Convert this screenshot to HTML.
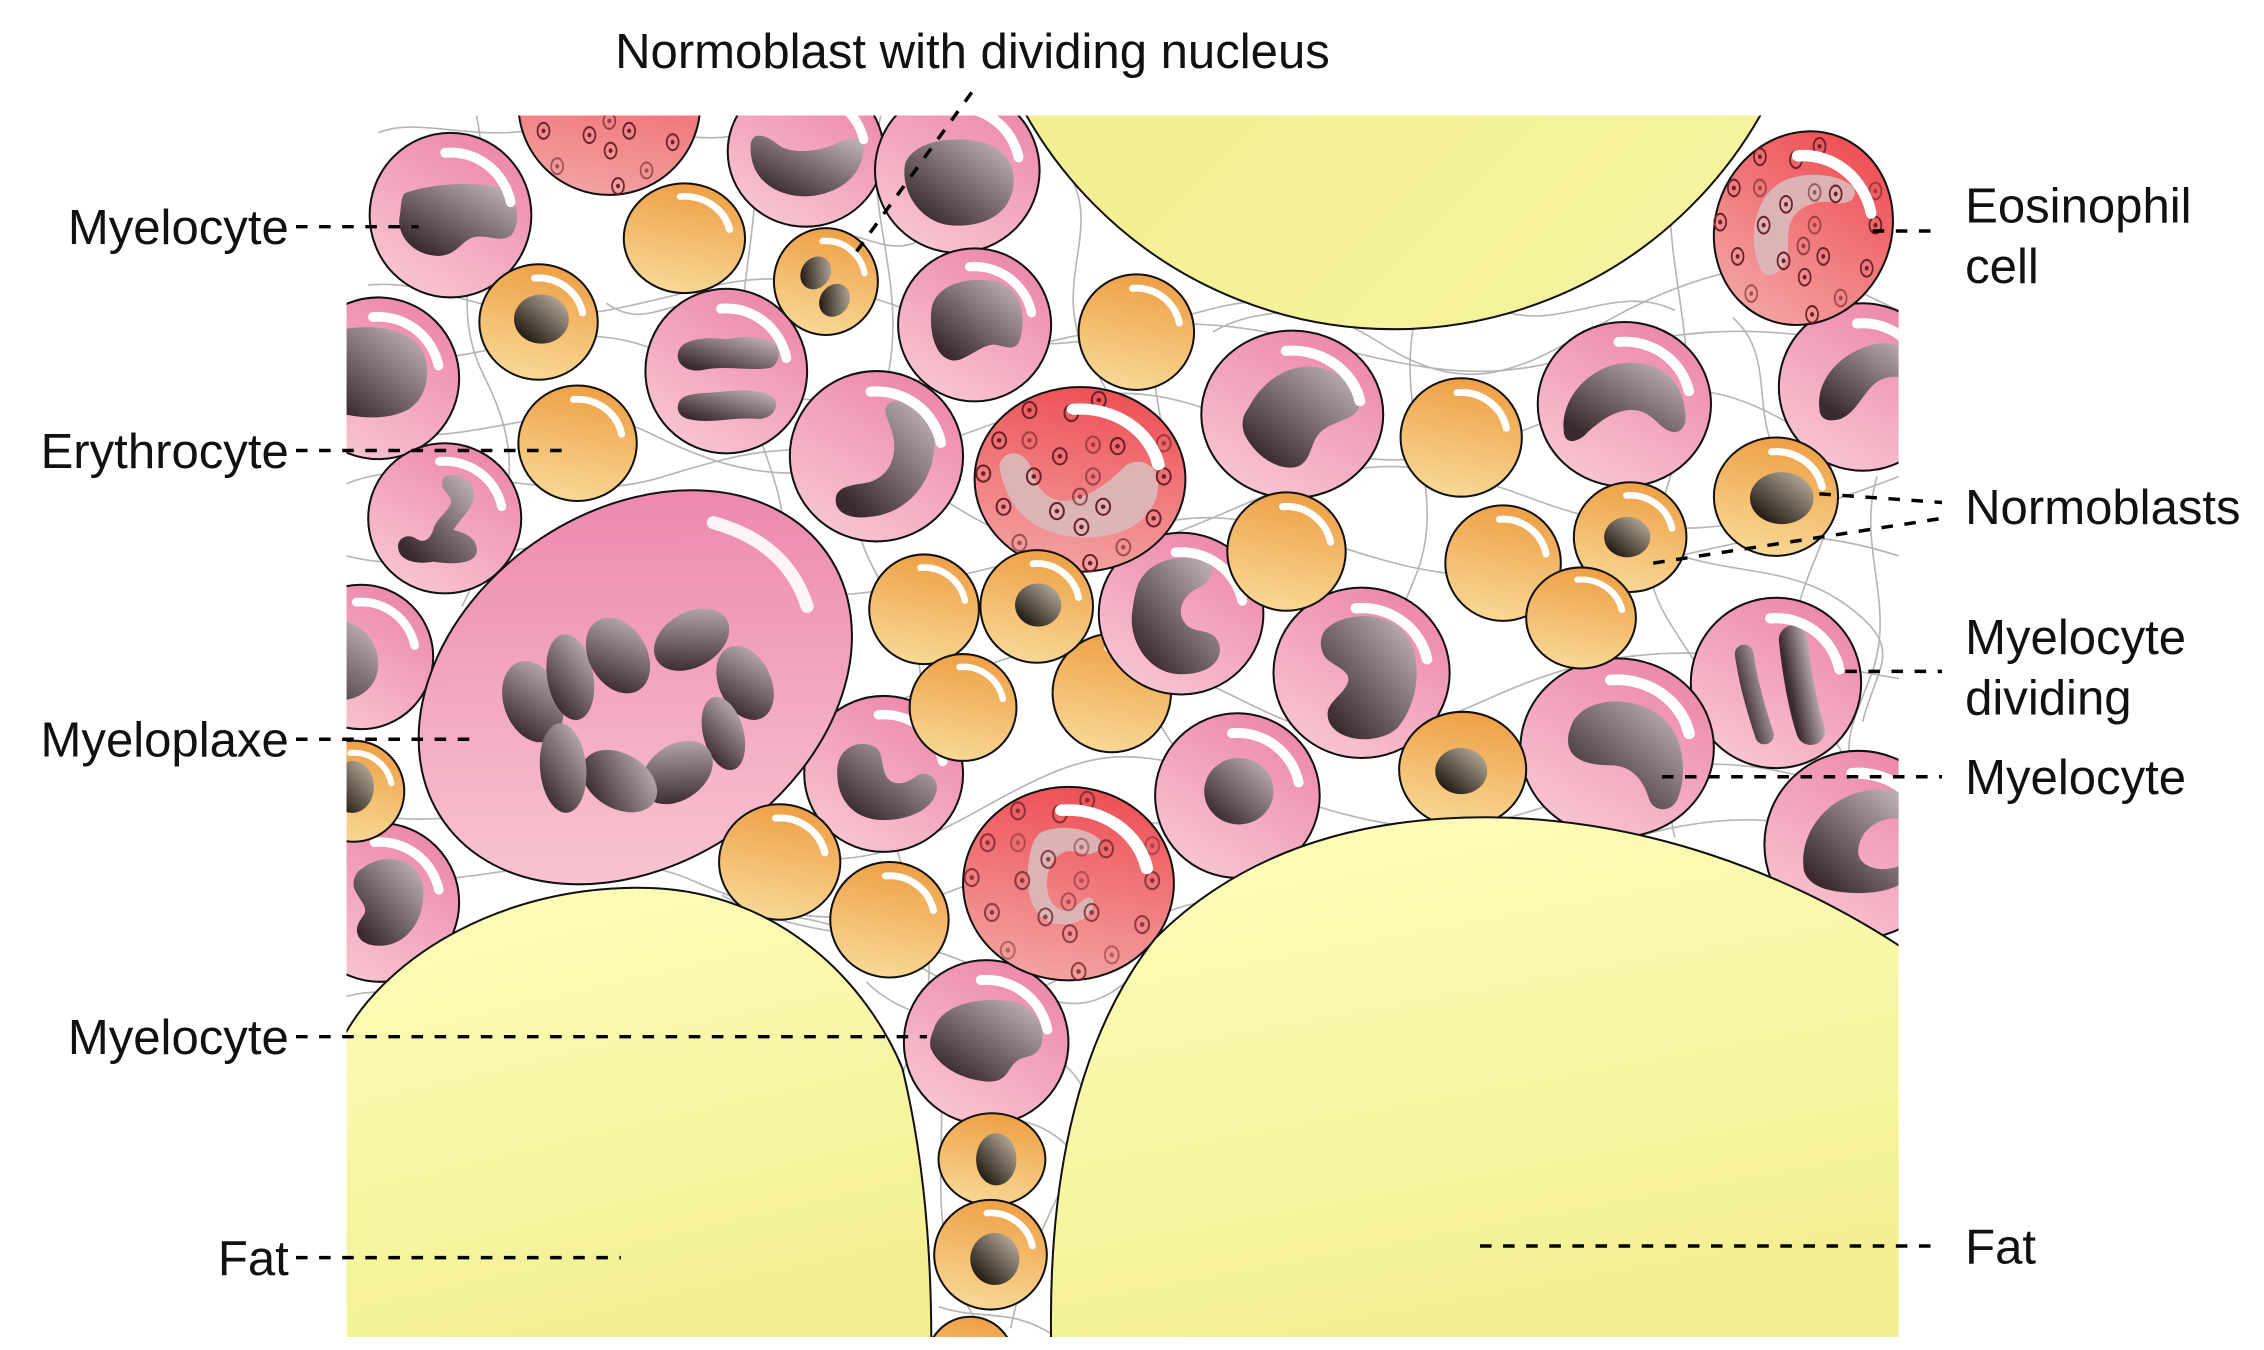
<!DOCTYPE html>
<html><head><meta charset="utf-8">
<style>
html,body{margin:0;padding:0;background:#fff;width:2264px;height:1350px;overflow:hidden}
svg{display:block}
.p{fill:url(#gP);stroke:#111;stroke-width:1.4}
.o{fill:url(#gO);stroke:#111;stroke-width:1.4}
.e{fill:url(#gE);stroke:#111;stroke-width:1.4}
.n{fill:url(#gN)}
.nn{fill:url(#gNN)}
.en{fill:#dbb8ba;opacity:.92}
.fb path{fill:none;stroke:#b6b6b6;stroke-width:1.15}
.d{stroke:#000;stroke-width:2.4;stroke-dasharray:8 8;fill:none}
</style></head>
<body>
<svg width="2264" height="1350" viewBox="0 0 1568 935" preserveAspectRatio="none" xmlns="http://www.w3.org/2000/svg">
<defs>
<linearGradient id="gP" x1="0.8" y1="0" x2="0.2" y2="1"><stop offset="0" stop-color="#ec84a9"/><stop offset="1" stop-color="#f9c8d3"/></linearGradient>
<linearGradient id="gPM" gradientUnits="userSpaceOnUse" x1="80" y1="-115" x2="-80" y2="115"><stop offset="0" stop-color="#ed88ae"/><stop offset="1" stop-color="#f8c5d1"/></linearGradient>
<linearGradient id="gO" x1="0.6" y1="0" x2="0.4" y2="1"><stop offset="0" stop-color="#ee9f45"/><stop offset="1" stop-color="#f8d996"/></linearGradient>
<linearGradient id="gE" x1="0.6" y1="0" x2="0.4" y2="1"><stop offset="0" stop-color="#ee4f55"/><stop offset="1" stop-color="#f3a3a3"/></linearGradient>
<linearGradient id="gN" x1="0.15" y1="0.9" x2="0.9" y2="0.1"><stop offset="0" stop-color="#3a2a2f"/><stop offset="1" stop-color="#b9abb0"/></linearGradient>
<linearGradient id="gNN" x1="0.15" y1="0.9" x2="0.9" y2="0.1"><stop offset="0" stop-color="#1f1810"/><stop offset="1" stop-color="#b5aa9a"/></linearGradient>
<linearGradient id="gFT" x1="0" y1="0" x2="1" y2="1"><stop offset="0" stop-color="#f0ec84"/><stop offset="1" stop-color="#f6f4a2"/></linearGradient>
<linearGradient id="gFB" x1="0.3" y1="0" x2="0.6" y2="1"><stop offset="0" stop-color="#fdfdb9"/><stop offset="1" stop-color="#f2ef90"/></linearGradient>
<path id="hl" d="M-3.3,-37.9 A38,38 0 0 1 37.2,-7.9" fill="none" stroke="#fff" stroke-width="6" stroke-linecap="round"/>
<g id="gr1"><ellipse rx="4.8" ry="5.6" fill="none" stroke="#6a2228" stroke-width="1.4"/><circle r="1.6" fill="#6a2228"/></g>
<g id="grs">
<use href="#gr1" x="-35" y="-48"/><use href="#gr1" x="-6" y="-46"/><use href="#gr1" x="13" y="-55"/>
<use href="#gr1" x="-56" y="-27"/><use href="#gr1" x="-35" y="-27" opacity=".6"/><use href="#gr1" x="-14" y="-16"/>
<use href="#gr1" x="9" y="-24" opacity=".6"/><use href="#gr1" x="26" y="-23"/><use href="#gr1" x="-67" y="-4"/>
<use href="#gr1" x="-32" y="-2"/><use href="#gr1" x="9" y="-2" opacity=".6"/><use href="#gr1" x="58" y="-2"/>
<use href="#gr1" x="-53" y="19"/><use href="#gr1" x="0" y="12" opacity=".7"/><use href="#gr1" x="16" y="19"/>
<use href="#gr1" x="-16" y="22"/><use href="#gr1" x="1" y="33"/><use href="#gr1" x="51" y="27"/>
<use href="#gr1" x="-42" y="44" opacity=".6"/><use href="#gr1" x="30" y="47" opacity=".6"/><use href="#gr1" x="7" y="58"/>
<use href="#gr1" x="58" y="-25" opacity=".6"/>
</g>
<clipPath id="tc"><path d="M255,80 H1315 V926 H240 V205 H255 Z"/></clipPath>
</defs>

<rect width="1568" height="935" fill="#fff"/>

<g clip-path="url(#tc)">
<!-- fibers -->
<g class="fb">
<path d="M262,92 C290,80 330,100 380,88 S470,105 520,92"/>
<path d="M240,200 C300,185 340,230 420,215 S520,180 600,205 S700,250 780,230 S880,190 960,240 S1080,230 1160,200 S1260,190 1315,215"/>
<path d="M245,245 C330,265 390,205 470,250 S600,275 680,250 S820,215 900,235 S1020,265 1080,250 S1200,215 1315,245"/>
<path d="M240,290 C310,325 380,265 450,300 S560,335 640,310 S760,255 840,285 S960,335 1050,300 S1180,255 1250,300 S1300,320 1315,305"/>
<path d="M240,335 C300,310 380,355 460,330 S580,300 660,350 S780,385 860,350 S980,315 1060,345 S1200,375 1315,330"/>
<path d="M240,385 C320,405 380,355 460,390 S600,415 700,390 S820,345 900,370 S1000,405 1100,395 S1220,355 1315,385"/>
<path d="M240,470 C300,495 380,455 460,480 S580,505 660,470 S780,445 860,485 S960,515 1040,480 S1180,445 1315,470"/>
<path d="M240,560 C320,585 380,535 470,570 S600,605 680,560 S780,515 870,545 S1000,585 1080,555 S1200,515 1315,560"/>
<path d="M240,605 C320,625 400,575 480,610 S600,645 700,600 S820,565 900,600 S1000,625 1100,590 S1250,565 1315,595"/>
<path d="M240,655 C300,640 360,695 430,660 S560,625 620,660 S700,705 760,660 S860,615 920,640"/>
<path d="M240,690 C280,680 300,700 330,690"/>
<path d="M500,620 C560,655 620,640 680,672 S760,705 800,660"/>
<path d="M600,680 C640,720 700,700 740,740 S720,820 700,920"/>
<path d="M640,700 C665,760 640,820 660,880 S700,920 690,926"/>
<path d="M655,760 C700,780 720,770 745,800"/>
<path d="M650,905 C680,915 700,905 730,925"/>
<path d="M330,80 C345,150 305,200 335,260 S355,350 320,420"/>
<path d="M520,80 C535,160 495,220 525,300 S545,380 505,450 S535,520 510,600"/>
<path d="M610,80 C595,150 635,200 610,280 S585,360 625,430 S595,520 625,600 S645,680 620,760"/>
<path d="M740,120 C765,160 725,200 755,250 S785,320 760,360"/>
<path d="M800,200 C785,260 825,320 800,380 S775,460 815,520"/>
<path d="M980,220 C965,290 1005,340 980,400 S955,470 995,520"/>
<path d="M1160,100 C1145,180 1185,240 1160,320 S1135,400 1175,460 S1145,530 1160,580"/>
<path d="M1200,220 C1235,250 1205,300 1245,330"/>
<path d="M1260,200 C1245,260 1285,320 1260,380 S1235,450 1275,520 S1295,580 1280,640"/>
<path d="M1300,330 C1285,380 1315,420 1295,470 S1275,520 1300,560"/>
<path d="M1150,380 C1200,400 1240,390 1280,420 S1300,460 1290,500"/>
<path d="M840,230 C880,205 940,225 980,200"/>
<path d="M1040,215 C1080,230 1120,195 1160,215"/>
<path d="M560,170 C590,148 610,183 640,165"/>
<path d="M420,210 C450,232 470,198 500,215"/>
</g>

<!-- orange behind -->
<g transform="translate(770,480)"><circle r="41" class="o"/><use href="#hl" transform="scale(.82)"/></g>

<!-- pink cells -->
<g transform="translate(312,149)"><ellipse rx="56" ry="57" class="p"/><path class="n" d="M-32,-15 C-15,-22 20,-24 38,-18 C48,-12 48,8 42,14 C34,20 24,12 14,16 C6,20 2,30 -12,28 C-28,26 -38,12 -35,0 C-34,-8 -34,-12 -32,-15 Z"/><use href="#hl" transform="scale(1.12,1.14)"/></g>
<g transform="translate(558,105)"><ellipse rx="54" ry="52" class="p"/><path class="n" d="M-38,-6 C-36,-14 -28,-12 -18,-4 C-8,2 10,0 22,-6 C34,-12 42,-10 40,0 C38,18 22,30 0,31 C-22,31 -40,18 -38,-6 Z"/><use href="#hl" transform="scale(1.08,1.04)"/></g>
<g transform="translate(663,118)"><ellipse rx="57" ry="57" class="p"/><path class="n" d="M-36,-5 C-30,-20 -5,-24 15,-20 C35,-16 42,0 38,15 C34,32 15,40 -5,38 C-25,36 -40,15 -36,-5 Z"/><use href="#hl" transform="scale(1.14)"/></g>
<g transform="translate(262,262)"><ellipse rx="56" ry="56" class="p"/><path class="n" d="M-40,-30 C-10,-40 20,-36 30,-20 C38,-5 33,15 20,22 C5,30 -20,28 -40,20 Z"/><use href="#hl" transform="scale(1.12)"/></g>
<g transform="translate(503,257)"><ellipse rx="56" ry="57" class="p"/><path class="n" d="M-33,-14 C-30,-22 -15,-24 0,-22 C12,-25 28,-24 35,-18 C38,-12 36,-4 30,-2 C15,0 0,-4 -15,-1 C-28,2 -36,-6 -33,-14 Z"/><path class="n" d="M-33,22 C-30,14 -15,16 0,14 C15,12 30,14 34,20 C36,28 30,34 20,33 C5,32 -10,36 -22,34 C-32,33 -35,28 -33,22 Z"/><use href="#hl" transform="scale(1.12,1.14)"/></g>
<g transform="translate(675,225)"><ellipse rx="53" ry="53" class="p"/><path class="n" d="M-30,-10 C-28,-28 -5,-34 15,-30 C30,-26 36,-10 32,8 C30,18 24,16 16,14 C8,12 0,20 -10,24 C-22,28 -32,14 -30,-10 Z"/><use href="#hl" transform="scale(1.06)"/></g>
<g transform="translate(607,316)"><ellipse rx="60" ry="59" class="p"/><path class="n" d="M12,-38 C30,-42 42,-25 40,-5 C38,20 20,40 -5,42 C-20,44 -30,38 -28,28 C-26,20 -15,20 -5,18 C8,14 14,2 12,-12 C10,-25 0,-34 12,-38 Z"/><use href="#hl" transform="scale(1.2,1.18)"/></g>
<g transform="translate(308,359)"><ellipse rx="53" ry="52" class="p"/><path class="n" d="M5,-30 C18,-30 24,-18 18,-8 C14,-2 10,2 6,8 C14,10 24,14 22,24 C20,32 4,32 -8,30 C-18,32 -30,30 -32,22 C-34,14 -26,10 -20,14 C-14,18 -10,14 -8,8 C-6,0 2,-4 4,-10 C6,-16 -2,-18 -2,-24 C-2,-28 0,-30 5,-30 Z"/><use href="#hl" transform="scale(1.06,1.04)"/></g>
<g transform="translate(895,287)"><ellipse rx="63" ry="58" class="p"/><path class="n" d="M-30,-5 C-20,-25 0,-35 15,-33 C35,-31 50,-15 46,-4 C42,4 30,4 21,11 C12,18 14,32 4,36 C-8,40 -25,30 -33,14 C-36,6 -34,0 -30,-5 Z"/><use href="#hl" transform="scale(1.26,1.16)"/></g>
<g transform="translate(1125,280)"><ellipse rx="60" ry="57" class="p"/><path class="n" d="M-42,18 C-44,0 -30,-22 -5,-28 C20,-32 40,-20 42,5 C44,16 38,22 30,18 C22,14 18,4 5,4 C-8,4 -20,14 -28,22 C-36,28 -42,26 -42,18 Z"/><use href="#hl" transform="scale(1.2,1.14)"/></g>
<g transform="translate(1290,268)"><ellipse rx="58" ry="58" class="p"/><path class="n" d="M-30,14 C-32,-5 -15,-25 10,-30 C25,-32 35,-25 40,-15 L40,0 C30,-8 18,-10 8,-2 C0,5 -5,18 -15,22 C-25,25 -30,22 -30,14 Z"/><use href="#hl" transform="scale(1.16)"/></g>
<g transform="translate(250,455)"><ellipse rx="50" ry="50" class="p"/><path class="n" d="M-15,-25 C0,-25 12,-10 12,5 C12,20 0,30 -15,30 L-60,30 L-60,-25 Z"/><use href="#hl" transform="scale(1)"/></g>
<g transform="translate(263,625)"><ellipse rx="55" ry="55" class="p"/><path class="n" d="M-10,-25 C5,-35 28,-30 30,-10 C32,10 20,30 0,30 C-15,30 -20,20 -12,10 C-5,2 -20,-5 -18,-15 C-16,-22 -14,-22 -10,-25 Z"/><use href="#hl" transform="scale(1.1)"/></g>
<g transform="translate(818,425)"><ellipse rx="57" ry="56" class="p"/><path class="n" d="M-30,-20 C-22,-38 0,-42 18,-36 C24,-32 22,-22 12,-18 C0,-12 -4,0 4,8 C10,14 22,10 26,20 C30,32 20,42 0,42 C-22,42 -36,20 -34,0 C-33,-8 -32,-14 -30,-20 Z"/><use href="#hl" transform="scale(1.14,1.12)"/></g>
<g transform="translate(943,466)"><ellipse rx="61" ry="59" class="p"/><path class="n" d="M-25,-30 C-10,-44 20,-42 32,-25 C42,-8 40,20 25,38 C12,50 -15,48 -22,35 C-28,22 -15,18 -10,8 C-5,-2 -22,-5 -26,-12 C-30,-20 -28,-26 -25,-30 Z"/><use href="#hl" transform="scale(1.22,1.18)"/></g>
<g transform="translate(1230,473)"><ellipse rx="59" ry="59" class="p"/><path d="M-22,-20 C-20,-5 -15,15 -8,36" fill="none" stroke="url(#gN)" stroke-width="13" stroke-linecap="round"/><path d="M12,-30 C14,-10 18,15 24,33" fill="none" stroke="url(#gN)" stroke-width="20" stroke-linecap="round"/><use href="#hl" transform="scale(1.18)"/></g>
<g transform="translate(1120,518)"><ellipse rx="67" ry="62" class="p"/><path class="n" d="M-32,-15 C-25,-35 10,-38 30,-22 C48,-8 48,20 42,35 C38,45 25,45 22,35 C18,22 10,12 -5,12 C-20,12 -34,8 -34,-5 C-34,-10 -33,-12 -32,-15 Z"/><use href="#hl" transform="scale(1.34,1.24)"/></g>
<g transform="translate(612,536)"><ellipse rx="55" ry="54" class="p"/><path class="n" d="M-32,-5 C-30,-20 -15,-24 -5,-18 C0,-14 -2,-5 2,2 C6,8 14,8 22,2 C30,-4 40,4 36,14 C32,26 15,32 0,32 C-20,32 -34,18 -32,-5 Z"/><use href="#hl" transform="scale(1.1,1.08)"/></g>
<g transform="translate(857,551)"><ellipse rx="57" ry="57" class="p"/><ellipse class="n" cx="1" cy="-3" rx="24" ry="23"/><use href="#hl" transform="scale(1.14)"/></g>
<g transform="translate(1287,585)"><ellipse rx="65" ry="65" class="p"/><path class="n" d="M-38,15 C-40,-10 -20,-35 10,-38 C25,-40 35,-35 35,-25 L30,-18 C15,-20 0,-10 0,5 C0,15 15,20 28,15 L28,28 C15,35 -10,35 -25,30 C-35,26 -38,20 -38,15 Z"/><use href="#hl" transform="scale(1.3)"/></g>
<g transform="translate(683,722)"><ellipse rx="57" ry="57" class="p"/><path class="n" d="M-36,-10 C-30,-28 0,-32 20,-28 C35,-24 42,-10 38,2 C34,12 26,8 20,14 C14,20 14,28 0,27 C-15,26 -32,18 -38,5 C-40,0 -38,-5 -36,-10 Z"/><use href="#hl" transform="scale(1.14)"/></g>

<!-- myeloplaxe -->
<g transform="translate(440,476)">
<ellipse rx="162" ry="122" transform="rotate(-35)" fill="url(#gPM)" stroke="#111" stroke-width="1.4"/>
<ellipse class="n" cx="-71" cy="10" rx="20" ry="29" transform="rotate(-20 -71 10)"/>
<ellipse class="n" cx="-45" cy="-7" rx="16" ry="30" transform="rotate(-10 -45 -7)"/>
<ellipse class="n" cx="-12" cy="-22" rx="20" ry="28" transform="rotate(-30 -12 -22)"/>
<ellipse class="n" cx="39" cy="-33" rx="28" ry="19" transform="rotate(-30 39 -33)"/>
<ellipse class="n" cx="76" cy="-3" rx="18" ry="27" transform="rotate(-25 76 -3)"/>
<ellipse class="n" cx="61" cy="32" rx="14" ry="26" transform="rotate(-15 61 32)"/>
<ellipse class="n" cx="29" cy="59" rx="27" ry="19" transform="rotate(-35 29 59)"/>
<ellipse class="n" cx="-11" cy="65" rx="28" ry="19" transform="rotate(30 -11 65)"/>
<ellipse class="n" cx="-50" cy="56" rx="16" ry="31" transform="rotate(-5 -50 56)"/>
<path d="M54,-114 Q105,-100 119,-56" fill="none" stroke="#fff" stroke-opacity=".9" stroke-width="9" stroke-linecap="round"/>
</g>

<!-- eosinophils -->
<g transform="translate(422,72)"><circle r="63" class="e"/><use href="#grs" transform="scale(.86,.98)"/></g>
<g transform="translate(748,332)"><ellipse rx="73" ry="64" class="e"/><path class="en" d="M-56,-10 C-52,-22 -38,-20 -34,-8 C-30,8 -20,18 -5,14 C10,10 20,2 30,-8 C38,-16 52,-12 54,0 C56,20 40,38 10,40 C-20,42 -50,30 -56,-10 Z"/><use href="#grs"/><use href="#hl" transform="scale(1.46,1.28)"/></g>
<g transform="translate(1249,158)"><ellipse rx="61" ry="68" class="e" transform="rotate(22)"/><path class="en" d="M-30,28 C-38,10 -36,-20 -15,-32 C0,-40 25,-38 35,-28 C38,-20 30,-15 20,-18 C5,-20 -8,-12 -10,0 C-12,12 -8,20 -15,28 C-20,34 -28,34 -30,28 Z"/><use href="#grs" transform="scale(.86,1.03)"/><use href="#hl" transform="scale(1.26,1.32)"/></g>
<g transform="translate(740,612)"><ellipse rx="73" ry="67" class="e"/><path class="en" d="M-20,-35 C-5,-42 15,-38 22,-30 C25,-22 15,-18 5,-22 C-5,-25 -15,-15 -15,0 C-15,12 -8,20 0,18 C8,16 10,8 16,10 C20,14 15,26 0,28 C-20,30 -30,15 -28,-10 C-27,-22 -25,-30 -20,-35 Z"/><use href="#grs" transform="scale(1,1.05)" opacity=".75"/><use href="#hl" transform="scale(1.46,1.34)"/></g>

<!-- orange cells -->
<g transform="translate(474,165)"><ellipse rx="42" ry="38" class="o"/><use href="#hl" transform="scale(.84,.76)"/></g>
<g transform="translate(572,195)"><ellipse rx="36" ry="37" class="o"/><ellipse class="nn" cx="-7" cy="-6" rx="10" ry="12" transform="rotate(35 -7 -6)"/><ellipse class="nn" cx="6" cy="13" rx="10" ry="12" transform="rotate(35 6 13)"/><use href="#hl" transform="scale(.72,.74)"/></g>
<g transform="translate(373,223)"><ellipse rx="41" ry="40" class="o"/><ellipse class="nn" cx="2" cy="-2" rx="19" ry="17"/><use href="#hl" transform="scale(.82,.8)"/></g>
<g transform="translate(400,307)"><ellipse rx="41" ry="40" class="o"/><use href="#hl" transform="scale(.82,.8)"/></g>
<g transform="translate(787,230)"><circle r="40" class="o"/><use href="#hl" transform="scale(.8)"/></g>
<g transform="translate(1012,303)"><ellipse rx="42" ry="41" class="o"/><use href="#hl" transform="scale(.84,.82)"/></g>
<g transform="translate(1230,344)"><ellipse rx="43" ry="41" class="o"/><ellipse class="nn" cx="4" cy="1" rx="22" ry="18"/><use href="#hl" transform="scale(.86,.82)"/></g>
<g transform="translate(1129,372)"><ellipse rx="39" ry="38" class="o"/><ellipse class="nn" cx="-2" cy="0" rx="16" ry="14"/><use href="#hl" transform="scale(.78,.76)"/></g>
<g transform="translate(1041,390)"><circle r="40" class="o"/><use href="#hl" transform="scale(.8)"/></g>
<g transform="translate(1095,428)"><ellipse rx="38" ry="35" class="o"/><use href="#hl" transform="scale(.76,.7)"/></g>
<g transform="translate(891,382)"><circle r="41" class="o"/><use href="#hl" transform="scale(.82)"/></g>
<g transform="translate(640,422)"><circle r="38" class="o"/><use href="#hl" transform="scale(.76)"/></g>
<g transform="translate(718,420)"><circle r="39" class="o"/><ellipse class="nn" cx="1" cy="-1" rx="16" ry="15"/><use href="#hl" transform="scale(.78)"/></g>
<g transform="translate(667,490)"><circle r="37" class="o"/><use href="#hl" transform="scale(.74)"/></g>
<g transform="translate(1013,533)"><ellipse rx="44" ry="40" class="o"/><ellipse class="nn" cx="-1" cy="1" rx="18" ry="16"/></g>
<g transform="translate(245,548)"><circle r="35" class="o"/><ellipse class="nn" cx="-1" cy="-3" rx="15" ry="18"/><use href="#hl" transform="scale(.7)"/></g>
<g transform="translate(540,597)"><ellipse rx="42" ry="40" class="o"/><use href="#hl" transform="scale(.84,.8)"/></g>
<g transform="translate(616,637)"><ellipse rx="41" ry="40" class="o"/><use href="#hl" transform="scale(.82,.8)"/></g>
<g transform="translate(687,803)"><ellipse rx="37" ry="32" class="o"/><ellipse class="nn" cx="3" cy="0" rx="14" ry="18"/></g>
<g transform="translate(686,869)"><ellipse rx="39" ry="38" class="o"/><ellipse class="nn" cx="3" cy="3" rx="17" ry="18"/><use href="#hl" transform="scale(.78,.76)"/></g>
<g transform="translate(672,942)"><circle r="30" class="o"/></g>

<!-- fat -->
<circle cx="965" cy="-64" r="292" fill="url(#gFT)" stroke="#111" stroke-width="1.4"/>
<path d="M238,718 C268,662 350,612 450,615 C540,618 600,680 625,740 C637,790 645,850 645,930 L238,930 Z" fill="url(#gFB)" stroke="#111" stroke-width="1.4"/>
<path d="M728,930 C726,820 745,720 800,650 C860,590 940,566 1030,566 C1140,567 1240,605 1320,658 L1320,930 Z" fill="url(#gFB)" stroke="#111" stroke-width="1.4"/>
</g>

<!-- leader lines -->
<path class="d" d="M205,157 H290"/>
<path class="d" d="M205,312 H393"/>
<path class="d" d="M205,512 H330"/>
<path class="d" d="M205,718 H642"/>
<path class="d" d="M205,871 H430"/>
<path class="d" d="M673,64 L589,180"/>
<path class="d" d="M1297,160 H1345"/>
<path class="d" d="M1260,342 L1345,348"/>
<path class="d" d="M1145,390 L1345,359"/>
<path class="d" d="M1278,465 H1345"/>
<path class="d" d="M1151,538 H1345"/>
<path class="d" d="M1025,863 H1345"/>

<!-- labels -->
<g font-family="'Liberation Sans', Arial, sans-serif" font-size="34" fill="#111">
<text x="426" y="47">Normoblast with dividing nucleus</text>
<text x="200" y="169" text-anchor="end">Myelocyte</text>
<text x="200" y="324" text-anchor="end">Erythrocyte</text>
<text x="200" y="524" text-anchor="end">Myeloplaxe</text>
<text x="200" y="730" text-anchor="end">Myelocyte</text>
<text x="200" y="883" text-anchor="end">Fat</text>
<text x="1361" y="154">Eosinophil</text>
<text x="1361" y="196">cell</text>
<text x="1361" y="363">Normoblasts</text>
<text x="1361" y="453">Myelocyte</text>
<text x="1361" y="495">dividing</text>
<text x="1361" y="550">Myelocyte</text>
<text x="1361" y="875">Fat</text>
</g>
</svg>
</body></html>
